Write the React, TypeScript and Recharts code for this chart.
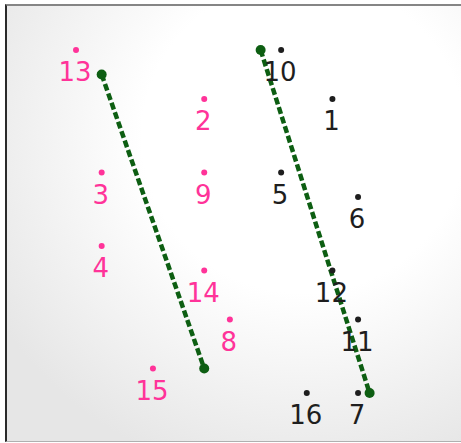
import { ScatterChart, Scatter, XAxis, YAxis } from 'recharts';

// pink group (left cluster)
const pinkLabels = ['13', '2', '3', '9', '4', '14', '8', '15'];
const pinkX = [3, 8, 4, 8, 4, 8, 9, 6];
const pinkY = [0, 2, 5, 5, 8, 9, 11, 13];

// black group (right cluster)
const blackLabels = ['10', '1', '5', '6', '12', '11', '16', '7'];
const blackX = [11, 13, 11, 14, 13, 14, 12, 14];
const blackY = [0, 2, 5, 6, 9, 11, 14, 14];

// dashed green segments
const lineAX = [4, 8];
const lineAY = [1, 13];
const lineBX = [10.2, 14.45];
const lineBY = [0, 14];

const pink = pinkLabels.map((label, i) => ({ x: pinkX[i], y: pinkY[i], label }));
const black = blackLabels.map((label, i) => ({ x: blackX[i], y: blackY[i], label }));
const lineA = lineAX.map((x, i) => ({ x, y: lineAY[i] }));
const lineB = lineBX.map((x, i) => ({ x, y: lineBY[i] }));

const makeDot = (color: string) => (props: any) => {
    const { cx, cy, payload } = props;
    return (
        <g>
            <circle cx={cx} cy={cy} r={3} fill={color} />
            <text
                x={cx - 1}
                y={cy + 31}
                textAnchor="middle"
                fill={color}
                fontSize={26}
                fontFamily="DejaVu Sans"
            >
                {payload.label}
            </text>
        </g>
    );
};

const greenDot = (props: any) => <circle cx={props.cx} cy={props.cy} r={5} fill="#0d5e12" />;

const lineStyle = { stroke: '#0d5e12', strokeWidth: 4.5, strokeDasharray: '7 3' };

export default function App() {
    return (
        <div style={{ position: 'fixed', left: 0, top: 0, width: 461, height: 443, overflow: 'hidden', background: '#fff' }}>
            {/* plot frame with soft shading */}
            <div
                style={{
                    position: 'absolute',
                    left: 5,
                    top: 4,
                    width: 480,
                    height: 438,
                    boxSizing: 'border-box',
                    borderTop: '2px solid #858585',
                    borderLeft: '2px solid #2a2a2a',
                    borderBottom: '1px solid #b0b0b0',
                    background: 'radial-gradient(ellipse 75% 80% at 62% 30%, #ffffff 45%, #e6e6e6 100%)',
                }}
            />
            <div style={{ position: 'absolute', left: 0, top: 0 }}>
                <ScatterChart width={480} height={443} margin={{ top: 5, left: 6, right: 0, bottom: 2 }}>
                    <XAxis type="number" dataKey="x" hide domain={[0.269, 18.756]} allowDataOverflow />
                    <YAxis type="number" dataKey="y" hide reversed width={0} domain={[-1.837, 15.959]} allowDataOverflow />
                    <Scatter data={lineA} line={lineStyle} shape={greenDot} isAnimationActive={false} />
                    <Scatter data={lineB} line={lineStyle} shape={greenDot} isAnimationActive={false} />
                    <Scatter data={pink} shape={makeDot('#ff3399')} isAnimationActive={false} />
                    <Scatter data={black} shape={makeDot('#1e1e1e')} isAnimationActive={false} />
                </ScatterChart>
            </div>
        </div>
    );
}
